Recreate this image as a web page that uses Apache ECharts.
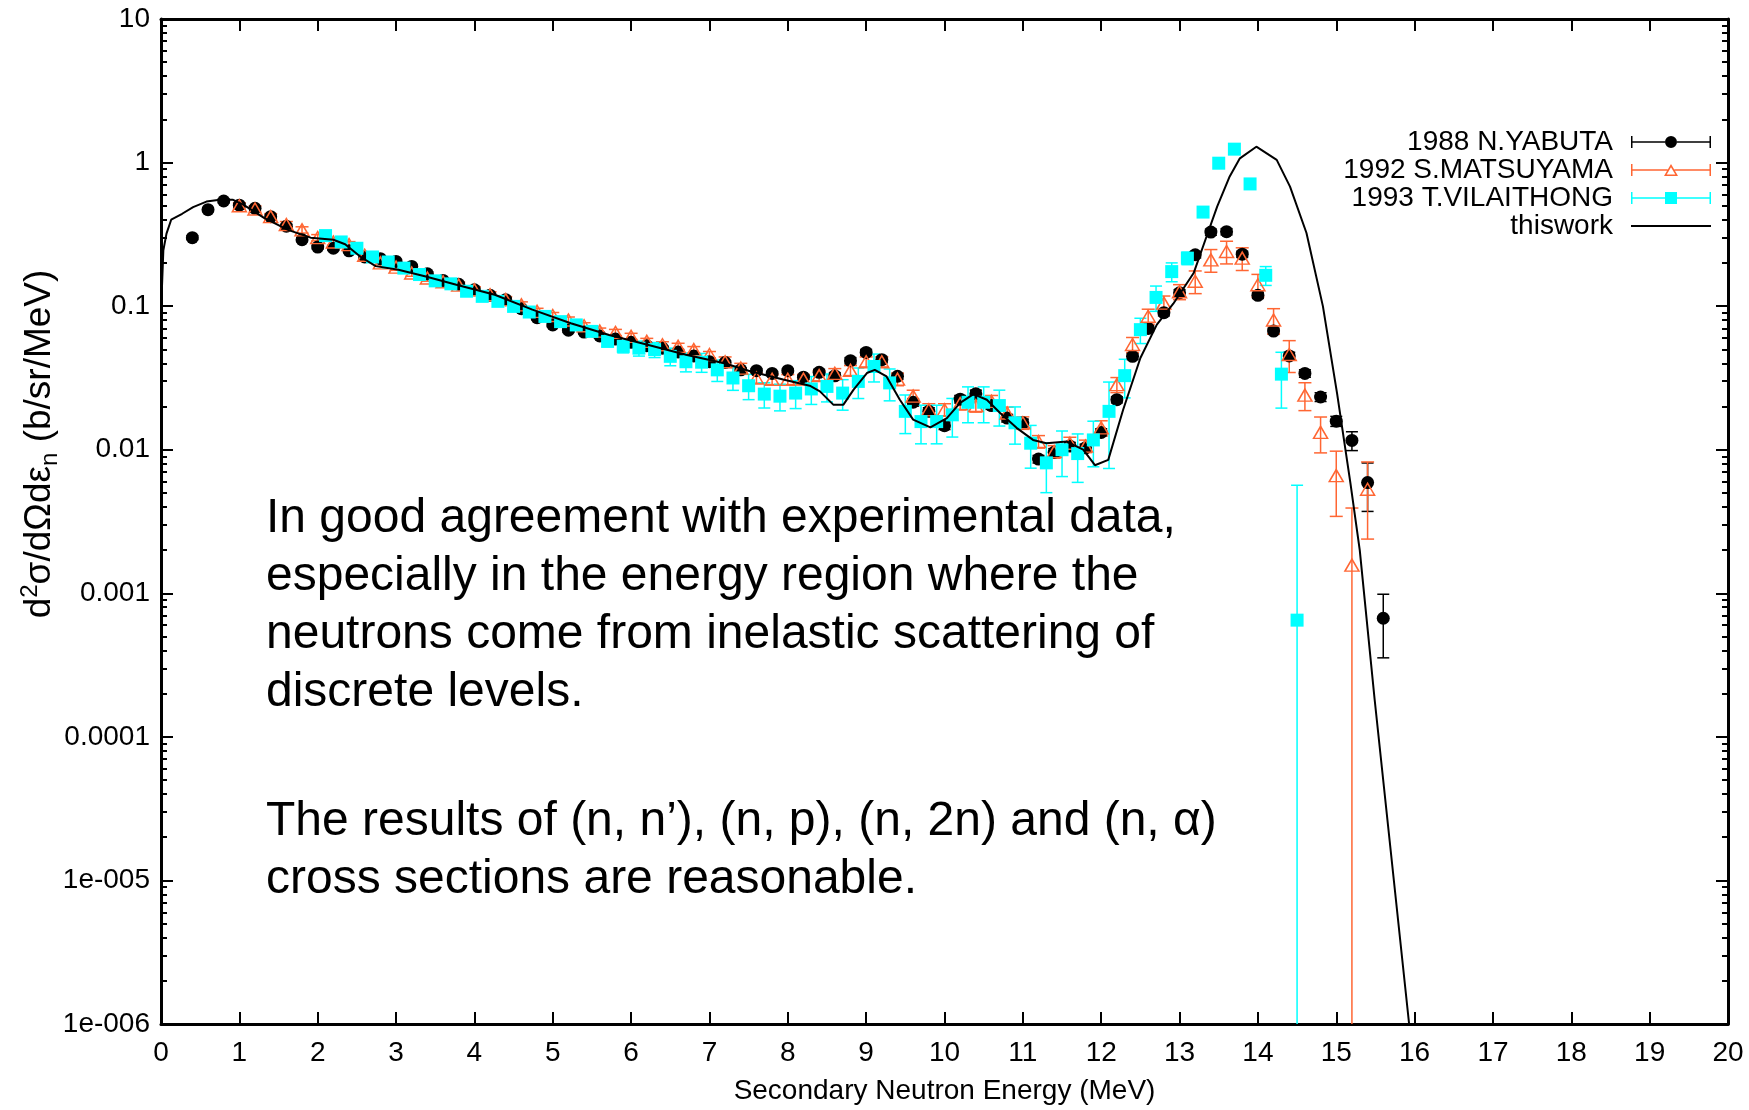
<!DOCTYPE html>
<html>
<head>
<meta charset="utf-8">
<title>Secondary neutron spectrum</title>
<script src="https://cdn.jsdelivr.net/npm/echarts@6.0.0/dist/echarts.min.js"></script>
<style>
html,body{margin:0;padding:0;background:#ffffff;}
#chart{width:1749px;height:1110px;}
</style>
</head>
<body>
<div id="chart"></div>
<script>
// ---------------- data ----------------
const seriesNames = ['1988 N.YABUTA', '1992 S.MATSUYAMA', '1993 T.VILAITHONG', 'thiswork'];

const yTickValues = [1e-6, 1e-5, 1e-4, 1e-3, 1e-2, 1e-1, 1, 10];
const yTickLabels = ['1e-006', '1e-005', '0.0001', '0.001', '0.01', '0.1', '1', '10'];

// 1988 N.YABUTA (black filled circles)
const yabutaE = [0.4,0.6,0.8,1.0,1.2,1.4,1.6,1.8,2.0,2.2,2.4,2.6,2.8,3.0,3.2,3.4,3.6,3.8,4.0,4.2,
  4.4,4.6,4.8,5.0,5.2,5.4,5.6,5.8,6.0,6.2,6.4,6.6,6.8,7.0,7.2,7.4,7.6,7.8,8.0,8.2,
  8.4,8.6,8.8,9.0,9.2,9.4,9.6,9.8,10.0,10.2,10.4,10.6,10.8,11.0,11.2,11.4,11.6,11.8,12.0,12.2,
  12.4,12.6,12.8,13.0,13.2,13.4,13.6,13.8,14.0,14.2,14.4,14.6,14.8,15.0,15.2,15.4,15.6];
const yabutaV = [0.30,0.47,0.54,0.505,0.48,0.42,0.36,0.29,0.258,0.253,0.243,0.22,0.214,0.205,0.189,0.168,0.151,0.142,0.130,0.119,
  0.111,0.096,0.083,0.074,0.068,0.066,0.062,0.059,0.056,0.053,0.051,0.048,0.045,0.041,0.0405,0.036,0.0355,0.034,0.0355,0.032,
  0.0346,0.0327,0.0417,0.0476,0.0424,0.0325,0.0214,0.0185,0.0147,0.0225,0.0245,0.0203,0.0166,0.0154,0.0086,0.0096,0.0106,0.0103,0.0132,0.0223,
  0.0447,0.070,0.090,0.124,0.228,0.328,0.330,0.230,0.119,0.067,0.045,0.034,0.0233,0.0158,0.0116,0.0059,0.00067];
const yabutaErr = [0.03,0.03,0.03,0.03,0.03,0.03,0.03,0.03,0.03,0.03,0.03,0.03,0.03,0.03,0.03,0.03,0.03,0.03,0.03,0.03,
  0.03,0.03,0.03,0.03,0.03,0.03,0.03,0.03,0.03,0.03,0.03,0.03,0.03,0.03,0.03,0.03,0.03,0.03,0.03,0.03,
  0.05,0.05,0.05,0.05,0.05,0.05,0.06,0.06,0.06,0.06,0.06,0.06,0.06,0.06,0.06,0.06,0.06,0.06,0.06,0.05,
  0.05,0.05,0.05,0.05,0.05,0.05,0.05,0.05,0.05,0.05,0.06,0.06,0.07,0.08,0.15,0.37,0.47];

// 1992 S.MATSUYAMA (open orange triangles)
const matsuE = [1.0,1.2,1.4,1.6,1.8,2.0,2.2,2.4,2.6,2.8,3.0,3.2,3.4,3.6,3.8,4.0,4.2,4.4,4.6,4.8,
  5.0,5.2,5.4,5.6,5.8,6.0,6.2,6.4,6.6,6.8,7.0,7.2,7.4,7.6,7.8,8.0,8.2,8.4,8.6,8.8,
  9.0,9.2,9.4,9.6,9.8,10.0,10.2,10.4,10.6,10.8,11.0,11.2,11.4,11.6,11.8,12.0,12.2,12.4,12.6,12.8,
  13.0,13.2,13.4,13.6,13.8,14.0,14.2,14.4,14.6,14.8,15.0,15.2,15.4];
const matsuV = [0.50,0.475,0.42,0.37,0.34,0.30,0.28,0.268,0.226,0.20,0.187,0.17,0.157,0.148,0.14,0.13,0.12,0.111,0.102,0.092,
  0.086,0.080,0.073,0.067,0.0656,0.0616,0.0568,0.0538,0.0525,0.0498,0.046,0.041,0.037,0.0316,0.0309,0.0309,0.031,0.0328,0.034,0.0357,
  0.041,0.041,0.031,0.0236,0.019,0.019,0.021,0.0203,0.0217,0.018,0.0154,0.0114,0.0097,0.0111,0.0106,0.0142,0.0284,0.054,0.085,0.105,
  0.126,0.149,0.21,0.24,0.216,0.141,0.080,0.046,0.024,0.0132,0.0066,0.00157,0.0053];
const matsuErr = [0.05,0.05,0.05,0.05,0.05,0.05,0.05,0.05,0.05,0.05,0.05,0.05,0.05,0.05,0.05,0.05,0.05,0.05,0.05,0.05,
  0.05,0.05,0.05,0.05,0.05,0.05,0.05,0.05,0.05,0.05,0.05,0.08,0.08,0.08,0.08,0.08,0.08,0.08,0.08,0.08,
  0.08,0.08,0.10,0.10,0.10,0.10,0.10,0.10,0.10,0.10,0.10,0.10,0.10,0.10,0.10,0.12,0.12,0.12,0.12,0.12,
  0.12,0.18,0.18,0.18,0.18,0.18,0.20,0.25,0.22,0.28,0.48,1.5,0.55];

// 1993 T.VILAITHONG (cyan squares)
const vilaE = [2.1,2.3,2.5,2.7,2.9,3.1,3.3,3.5,3.7,3.9,4.1,4.3,4.5,4.7,4.9,5.1,5.3,5.5,5.7,5.9,
  6.1,6.3,6.5,6.7,6.9,7.1,7.3,7.5,7.7,7.9,8.1,8.3,8.5,8.7,8.9,9.1,9.3,9.5,9.7,9.9,
  10.1,10.3,10.5,10.7,10.9,11.1,11.3,11.5,11.7,11.9,12.1,12.3,12.5,12.7,12.9,13.1,13.3,13.5,13.7,13.9,
  14.1,14.3,14.5];
const vilaV = [0.31,0.28,0.253,0.22,0.203,0.184,0.166,0.15,0.143,0.127,0.117,0.108,0.0996,0.091,0.0848,0.078,0.074,0.0667,0.0568,0.0525,
  0.051,0.0498,0.0447,0.041,0.0407,0.036,0.0316,0.0279,0.0244,0.0236,0.0248,0.0265,0.0276,0.0248,0.0299,0.038,0.0292,0.0185,0.0157,0.0157,
  0.0175,0.0214,0.0214,0.0203,0.0154,0.0111,0.0081,0.010,0.0094,0.0117,0.0185,0.0328,0.0686,0.115,0.174,0.216,0.452,0.99,1.24,0.71,
  0.164,0.0336,0.00065];
const vilaErr = [0.04,0.04,0.04,0.04,0.04,0.04,0.04,0.04,0.04,0.04,0.04,0.04,0.04,0.04,0.04,0.04,0.04,0.06,0.08,0.10,
  0.12,0.12,0.14,0.15,0.15,0.17,0.18,0.20,0.20,0.21,0.22,0.22,0.22,0.24,0.24,0.22,0.25,0.30,0.30,0.30,
  0.30,0.28,0.28,0.28,0.29,0.33,0.38,0.35,0.37,0.35,0.60,0.30,0.20,0.20,0.15,0.10,0,0,0,0,
  0.15,0.42,7.7];

// thiswork (black solid line)
const thisE = [0.0,0.03,0.07,0.13,0.27,0.41,0.58,0.75,0.92,1.05,1.32,1.62,1.91,2.2,2.35,2.55,2.74,3.03,3.38,3.77,
  4.26,4.74,5.23,5.72,6.21,6.70,7.19,7.52,7.94,8.28,8.41,8.58,8.71,8.84,9.01,9.11,9.26,9.43,9.60,9.82,
  10.03,10.20,10.37,10.54,10.71,10.92,11.13,11.30,11.56,11.77,11.92,12.09,12.28,12.50,12.71,12.92,13.18,13.33,13.48,13.64,
  13.77,13.98,14.24,14.41,14.62,14.83,15.01,15.18,15.30,15.49,15.93];
const thisV = [0.09,0.245,0.32,0.40,0.44,0.49,0.535,0.55,0.55,0.51,0.41,0.34,0.30,0.29,0.27,0.22,0.19,0.179,0.161,0.141,
  0.12,0.0945,0.076,0.063,0.0538,0.0459,0.040,0.0352,0.0308,0.0279,0.0255,0.0206,0.0206,0.0262,0.0342,0.036,0.0324,0.0223,0.0162,0.0143,
  0.0166,0.0212,0.0244,0.0223,0.018,0.0142,0.0117,0.0111,0.0114,0.010,0.0078,0.0085,0.019,0.0435,0.0743,0.104,0.17,0.29,0.494,0.80,
  1.07,1.29,1.045,0.68,0.323,0.0996,0.0248,0.0059,0.0020,0.000182,0.000001];

const noteParagraph1 = [
  'In good agreement with experimental data,',
  'especially in the energy region where the',
  'neutrons come from inelastic scattering of',
  'discrete levels.'
];
const noteParagraph2 = [
  'The results of (n, n\u2019), (n, p), (n, 2n) and (n, \u03b1)',
  'cross sections are reasonable.'
];

// ---------------- chart ----------------
const FONT = '"Liberation Sans", Arial, Helvetica, sans-serif';
const C_BLACK = '#000000', C_ORANGE = '#ff6633', C_CYAN = '#00ffff';

function pairs(E, V) { return E.map((e, i) => [e, V[i]]); }
function errData(E, V, R) {
  const out = [];
  E.forEach((e, i) => {
    if (!R[i]) return;
    let lo = V[i] * (1 - R[i]);
    if (lo <= 0) lo = 1e-12;
    out.push([e, lo, V[i] * (1 + R[i])]);
  });
  return out;
}
function errRender(color, lw, cap) {
  return function (params, api) {
    const x = api.value(0), lo = api.value(1), hi = api.value(2);
    const cs = params.coordSys;
    const yMax = cs.y + cs.height;
    const top = api.coord([x, hi]);
    const bot = api.coord([x, lo]);
    let botCap = true;
    if (!isFinite(bot[1]) || bot[1] > yMax) { bot[1] = yMax; botCap = false; }
    const st = { stroke: color, lineWidth: lw };
    const ch = [
      { type: 'line', shape: { x1: top[0], y1: top[1], x2: bot[0], y2: bot[1] }, style: st },
      { type: 'line', shape: { x1: top[0] - cap, y1: top[1], x2: top[0] + cap, y2: top[1] }, style: st }
    ];
    if (botCap) ch.push({ type: 'line', shape: { x1: bot[0] - cap, y1: bot[1], x2: bot[0] + cap, y2: bot[1] }, style: st });
    return { type: 'group', children: ch };
  };
}

const minorTicks = [];
for (let d = -6; d <= 0; d++) for (let k = 2; k <= 9; k++) minorTicks.push(k * Math.pow(10, d));

function yAxisBase(pos, major, withLabels) {
  return {
    type: 'log', logBase: 10, min: 1e-6, max: 10, position: pos, gridIndex: 0,
    axisLine: { show: major, onZero: false, lineStyle: { color: '#000', width: 3 } },
    axisTick: { show: true, inside: true, length: major ? 12 : 6, lineStyle: { color: '#000', width: 2 },
                customValues: major ? yTickValues : minorTicks },
    axisLabel: withLabels ? {
      show: true, customValues: yTickValues, margin: 11, color: '#000', fontSize: 28, fontFamily: FONT,
      formatter: function (v) { return yTickLabels[Math.round(Math.log10(v)) + 6]; }
    } : { show: false },
    splitLine: { show: false }, minorTick: { show: false }, minorSplitLine: { show: false }
  };
}

const yLeft = yAxisBase('left', true, true);
yLeft.name = '{a|d}{sup|2}{a|\u03c3/d\u03a9d\u03b5}{sub|n}{a| (b/sr/MeV)}';
yLeft.nameLocation = 'middle';
yLeft.nameRotate = 90;
yLeft.nameGap = 99;
yLeft.nameMoveOverlap = false;
yLeft.nameTextStyle = {
  padding: [0, 0, 0, 155],
  rich: {
    a: { fontSize: 37, lineHeight: 44, fontFamily: FONT, color: '#000' },
    sup: { fontSize: 24, lineHeight: 24, verticalAlign: 'top', fontFamily: FONT, color: '#000' },
    sub: { fontSize: 24, lineHeight: 24, verticalAlign: 'bottom', fontFamily: FONT, color: '#000' }
  }
};

const option = {
  animation: false,
  backgroundColor: '#ffffff',
  grid: { left: 161, right: 21, top: 19, bottom: 85, containLabel: false },
  xAxis: [
    {
      type: 'value', min: 0, max: 20, interval: 1, position: 'bottom',
      axisLine: { onZero: false, lineStyle: { color: '#000', width: 3 } },
      axisTick: { inside: true, length: 12, lineStyle: { color: '#000', width: 2 } },
      axisLabel: { margin: 15, color: '#000', fontSize: 28, fontFamily: FONT },
      splitLine: { show: false },
      name: 'Secondary Neutron Energy (MeV)', nameLocation: 'middle', nameGap: 53, nameMoveOverlap: false,
      nameTextStyle: { fontSize: 28, fontFamily: FONT, color: '#000' }
    },
    {
      type: 'value', min: 0, max: 20, interval: 1, position: 'top',
      axisLine: { onZero: false, lineStyle: { color: '#000', width: 3 } },
      axisTick: { inside: true, length: 12, lineStyle: { color: '#000', width: 2 } },
      axisLabel: { show: false }, splitLine: { show: false }
    }
  ],
  yAxis: [
    yLeft,
    yAxisBase('left', false, false),
    yAxisBase('right', true, false),
    yAxisBase('right', false, false)
  ],
  legend: {
    orient: 'vertical', right: 38, top: 128, align: 'right', padding: 0,
    itemWidth: 80, itemHeight: 14, itemGap: 0,
    textStyle: { fontSize: 28, lineHeight: 27.5, fontFamily: FONT, color: '#000', padding: [0, 13, 0, 0] },
    data: [
      { name: seriesNames[0], itemStyle: { color: C_BLACK, borderWidth: 0, opacity: 1 },
        icon: 'path://M0,6.25H34V7.75H0Z M46,6.25H80V7.75H46Z M0,1H1.5V13H0Z M78.5,1H80V13H78.5Z M34,7A6,6,0,1,1,46,7A6,6,0,1,1,34,7Z' },
      { name: seriesNames[1], itemStyle: { color: C_ORANGE, borderWidth: 0, opacity: 1 },
        icon: 'path://M0,6.25H36.6V7.75H0Z M43.4,6.25H80V7.75H43.4Z M0,1H1.5V13H0Z M78.5,1H80V13H78.5Z M40,1L47,13L33,13Z M40,4.3L35.7,11.5L44.3,11.5Z' },
      { name: seriesNames[2], itemStyle: { color: C_CYAN, borderWidth: 0, opacity: 1 },
        icon: 'path://M0,6.25H34V7.75H0Z M46,6.25H80V7.75H46Z M0,1H1.5V13H0Z M78.5,1H80V13H78.5Z M34,1H46V13H34Z' },
      { name: seriesNames[3], itemStyle: { color: C_BLACK, borderWidth: 0, opacity: 1 },
        icon: 'path://M0,6.1H80V7.9H0Z' }
    ]
  },
  series: [
    { name: 'yabuta-err', type: 'custom', xAxisIndex: 0, yAxisIndex: 0, renderItem: errRender(C_BLACK, 1.5, 6),
      data: errData(yabutaE, yabutaV, yabutaErr), encode: { x: 0, y: [1, 2] }, silent: true },
    { name: seriesNames[0], type: 'scatter', xAxisIndex: 0, yAxisIndex: 0, symbol: 'circle', symbolSize: 13,
      itemStyle: { color: C_BLACK, opacity: 1 }, data: pairs(yabutaE, yabutaV) },
    { name: 'matsu-err', type: 'custom', xAxisIndex: 0, yAxisIndex: 0, renderItem: errRender(C_ORANGE, 1.5, 6.5),
      data: errData(matsuE, matsuV, matsuErr), encode: { x: 0, y: [1, 2] }, silent: true },
    { name: seriesNames[1], type: 'scatter', xAxisIndex: 0, yAxisIndex: 0, symbol: 'triangle', symbolSize: [14, 12],
      itemStyle: { color: 'rgba(0,0,0,0)', borderColor: C_ORANGE, borderWidth: 1.5, opacity: 1 }, data: pairs(matsuE, matsuV) },
    { name: 'vila-err', type: 'custom', xAxisIndex: 0, yAxisIndex: 0, renderItem: errRender(C_CYAN, 1.5, 6),
      data: errData(vilaE, vilaV, vilaErr), encode: { x: 0, y: [1, 2] }, silent: true },
    { name: seriesNames[2], type: 'scatter', xAxisIndex: 0, yAxisIndex: 0, symbol: 'rect', symbolSize: 13,
      itemStyle: { color: C_CYAN, opacity: 1 }, data: pairs(vilaE, vilaV) },
    { name: seriesNames[3], type: 'line', xAxisIndex: 0, yAxisIndex: 0, symbol: 'none', showSymbol: false,
      lineStyle: { color: C_BLACK, width: 2 }, itemStyle: { color: C_BLACK }, data: pairs(thisE, thisV) }
  ],
  graphic: [
    { type: 'text', left: 266, top: 490, silent: true,
      style: { text: noteParagraph1.join('\n'), fontSize: 48, fontFamily: FONT, lineHeight: 58, fill: '#000' } },
    { type: 'text', left: 266, top: 793, silent: true,
      style: { text: noteParagraph2.join('\n'), fontSize: 48, fontFamily: FONT, lineHeight: 58, fill: '#000' } }
  ]
};

const chart = echarts.init(document.getElementById('chart'), null, { renderer: 'canvas' });
chart.setOption(option);
</script>
</body>
</html>
